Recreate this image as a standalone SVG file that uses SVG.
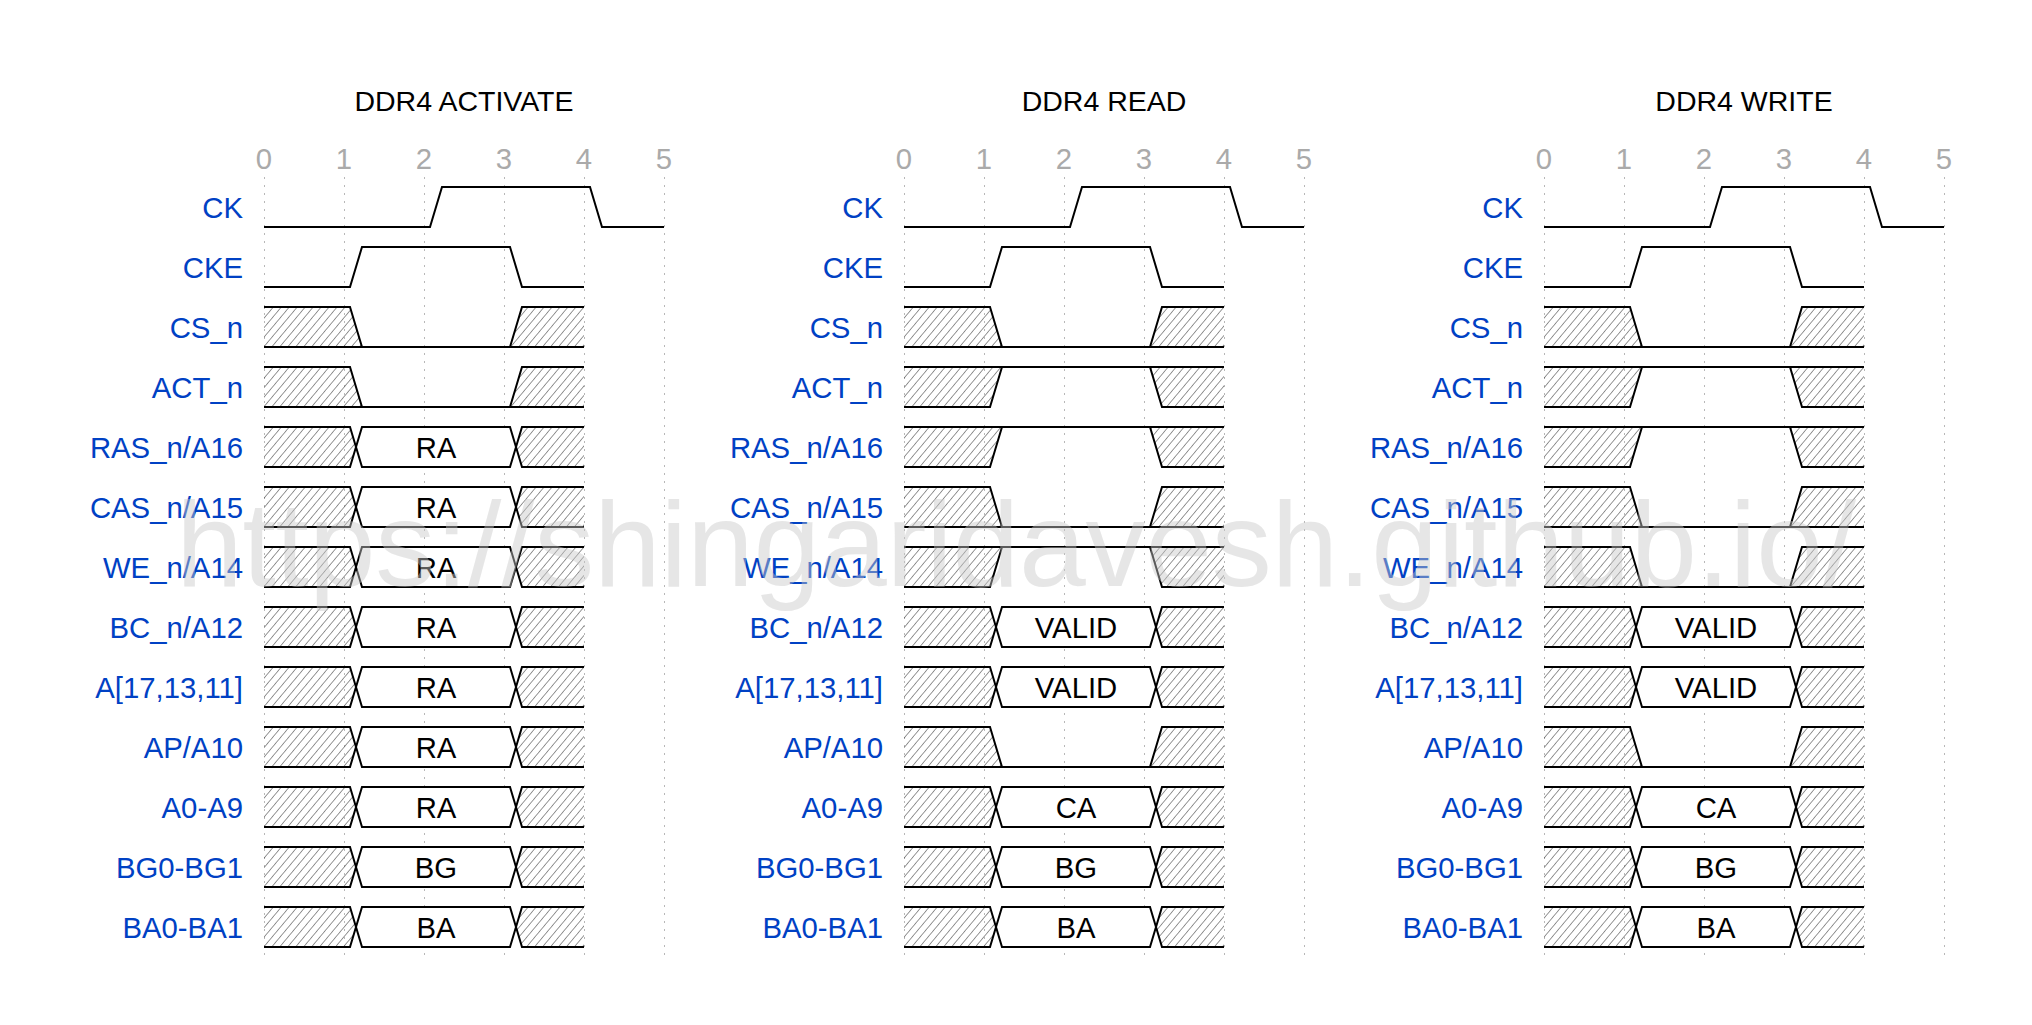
<svg xmlns="http://www.w3.org/2000/svg" xmlns:xlink="http://www.w3.org/1999/xlink" width="2032" height="1025" viewBox="0 0 2032 1025">
<style>
.title{font-family:"Liberation Sans",Arial,sans-serif;font-size:28.5px;fill:#000;text-anchor:middle}
.tick{font-family:"Liberation Sans",Arial,sans-serif;font-size:29.3px;fill:#aaa;text-anchor:middle}
.name{font-family:"Liberation Sans",Arial,sans-serif;font-size:29.3px;fill:#0041c4;text-anchor:end}
.data{font-family:"Liberation Sans",Arial,sans-serif;font-size:29.3px;fill:#000;text-anchor:middle}
.wave{fill:none;stroke:#000;stroke-width:2;stroke-linejoin:miter}
.hatch{fill:url(#hatch);stroke:none}
.box{fill:#fff;stroke:none}
.grid{stroke:#b8b8b8;stroke-width:1;stroke-dasharray:2,6;fill:none}
.wm{font-family:"Liberation Sans",Arial,sans-serif;font-size:120px;fill:#c8c8c8;fill-opacity:0.45}
</style>
<defs>
<pattern id="hatch" patternUnits="userSpaceOnUse" width="6.1" height="10" patternTransform="rotate(40)">
<line x1="0" y1="-1" x2="0" y2="11" stroke="#444" stroke-width="1.1"/>
</pattern>
<g id="ck"><path class="wave" d="M0,20H166L178,-20H326L338,20H400"/></g>
<g id="cke"><path class="wave" d="M0,20H86L98,-20H246L258,20H320"/></g>
<g id="x0x">
<path class="hatch" d="M0,-20H86L98,20H0Z M246,20L258,-20H320V20Z"/>
<path class="wave" d="M0,-20H86L98,20 M0,20H320 M246,20L258,-20H320"/>
</g>
<g id="x1x">
<path class="hatch" d="M0,-20H98L86,20H0Z M246,-20H320V20H258Z"/>
<path class="wave" d="M0,-20H320 M0,20H86L98,-20 M246,-20L258,20H320"/>
</g>
<g id="xdx">
<path class="hatch" d="M0,-20H86L92,0L86,20H0Z M252,0L258,-20H320V20H258Z"/>
<path class="box" d="M92,0L98,-20H246L252,0L246,20H98Z"/>
<path class="wave" d="M0,-20H86L98,20H246L258,-20H320 M0,20H86L98,-20H246L258,20H320"/>
</g>
<g id="grid">
<path class="grid" d="M0.5,177V957 M80.5,177V957 M160.5,177V957 M240.5,177V957 M320.5,177V957 M400.5,177V957"/>
</g>
</defs>

<g id="panel-activate">
<text class="title" x="464" y="111">DDR4 ACTIVATE</text>
<g id="ticks-activate">
<text class="tick" x="264" y="169">0</text><text class="tick" x="344" y="169">1</text><text class="tick" x="424" y="169">2</text><text class="tick" x="504" y="169">3</text><text class="tick" x="584" y="169">4</text><text class="tick" x="664" y="169">5</text>
</g>
<use xlink:href="#grid" x="264" y="0"/>
<g id="act-labels">
<text class="name" x="243" y="217.5">CK</text>
<text class="name" x="243" y="277.5">CKE</text>
<text class="name" x="243" y="337.5">CS_n</text>
<text class="name" x="243" y="397.5">ACT_n</text>
<text class="name" x="243" y="457.5">RAS_n/A16</text>
<text class="name" x="243" y="517.5">CAS_n/A15</text>
<text class="name" x="243" y="577.5">WE_n/A14</text>
<text class="name" x="243" y="637.5">BC_n/A12</text>
<text class="name" x="243" y="697.5">A[17,13,11]</text>
<text class="name" x="243" y="757.5">AP/A10</text>
<text class="name" x="243" y="817.5">A0-A9</text>
<text class="name" x="243" y="877.5">BG0-BG1</text>
<text class="name" x="243" y="937.5">BA0-BA1</text>
</g>
<g id="act-waves">
<use xlink:href="#ck" x="264" y="207"/>
<use xlink:href="#cke" x="264" y="267"/>
<use xlink:href="#x0x" x="264" y="327"/>
<use xlink:href="#x0x" x="264" y="387"/>
<use xlink:href="#xdx" x="264" y="447"/>
<use xlink:href="#xdx" x="264" y="507"/>
<use xlink:href="#xdx" x="264" y="567"/>
<use xlink:href="#xdx" x="264" y="627"/>
<use xlink:href="#xdx" x="264" y="687"/>
<use xlink:href="#xdx" x="264" y="747"/>
<use xlink:href="#xdx" x="264" y="807"/>
<use xlink:href="#xdx" x="264" y="867"/>
<use xlink:href="#xdx" x="264" y="927"/>
<text class="data" x="436" y="457.5">RA</text>
<text class="data" x="436" y="517.5">RA</text>
<text class="data" x="436" y="577.5">RA</text>
<text class="data" x="436" y="637.5">RA</text>
<text class="data" x="436" y="697.5">RA</text>
<text class="data" x="436" y="757.5">RA</text>
<text class="data" x="436" y="817.5">RA</text>
<text class="data" x="436" y="877.5">BG</text>
<text class="data" x="436" y="937.5">BA</text>
</g>
</g>

<g id="panel-read">
<text class="title" x="1104" y="111">DDR4 READ</text>
<g id="ticks-read">
<text class="tick" x="904" y="169">0</text><text class="tick" x="984" y="169">1</text><text class="tick" x="1064" y="169">2</text><text class="tick" x="1144" y="169">3</text><text class="tick" x="1224" y="169">4</text><text class="tick" x="1304" y="169">5</text>
</g>
<use xlink:href="#grid" x="904" y="0"/>
<g id="read-labels">
<text class="name" x="883" y="217.5">CK</text>
<text class="name" x="883" y="277.5">CKE</text>
<text class="name" x="883" y="337.5">CS_n</text>
<text class="name" x="883" y="397.5">ACT_n</text>
<text class="name" x="883" y="457.5">RAS_n/A16</text>
<text class="name" x="883" y="517.5">CAS_n/A15</text>
<text class="name" x="883" y="577.5">WE_n/A14</text>
<text class="name" x="883" y="637.5">BC_n/A12</text>
<text class="name" x="883" y="697.5">A[17,13,11]</text>
<text class="name" x="883" y="757.5">AP/A10</text>
<text class="name" x="883" y="817.5">A0-A9</text>
<text class="name" x="883" y="877.5">BG0-BG1</text>
<text class="name" x="883" y="937.5">BA0-BA1</text>
</g>
<g id="read-waves">
<use xlink:href="#ck" x="904" y="207"/>
<use xlink:href="#cke" x="904" y="267"/>
<use xlink:href="#x0x" x="904" y="327"/>
<use xlink:href="#x1x" x="904" y="387"/>
<use xlink:href="#x1x" x="904" y="447"/>
<use xlink:href="#x0x" x="904" y="507"/>
<use xlink:href="#x1x" x="904" y="567"/>
<use xlink:href="#xdx" x="904" y="627"/>
<use xlink:href="#xdx" x="904" y="687"/>
<use xlink:href="#x0x" x="904" y="747"/>
<use xlink:href="#xdx" x="904" y="807"/>
<use xlink:href="#xdx" x="904" y="867"/>
<use xlink:href="#xdx" x="904" y="927"/>
<text class="data" x="1076" y="637.5">VALID</text>
<text class="data" x="1076" y="697.5">VALID</text>
<text class="data" x="1076" y="817.5">CA</text>
<text class="data" x="1076" y="877.5">BG</text>
<text class="data" x="1076" y="937.5">BA</text>
</g>
</g>

<g id="panel-write">
<text class="title" x="1744" y="111">DDR4 WRITE</text>
<g id="ticks-write">
<text class="tick" x="1544" y="169">0</text><text class="tick" x="1624" y="169">1</text><text class="tick" x="1704" y="169">2</text><text class="tick" x="1784" y="169">3</text><text class="tick" x="1864" y="169">4</text><text class="tick" x="1944" y="169">5</text>
</g>
<use xlink:href="#grid" x="1544" y="0"/>
<g id="write-labels">
<text class="name" x="1523" y="217.5">CK</text>
<text class="name" x="1523" y="277.5">CKE</text>
<text class="name" x="1523" y="337.5">CS_n</text>
<text class="name" x="1523" y="397.5">ACT_n</text>
<text class="name" x="1523" y="457.5">RAS_n/A16</text>
<text class="name" x="1523" y="517.5">CAS_n/A15</text>
<text class="name" x="1523" y="577.5">WE_n/A14</text>
<text class="name" x="1523" y="637.5">BC_n/A12</text>
<text class="name" x="1523" y="697.5">A[17,13,11]</text>
<text class="name" x="1523" y="757.5">AP/A10</text>
<text class="name" x="1523" y="817.5">A0-A9</text>
<text class="name" x="1523" y="877.5">BG0-BG1</text>
<text class="name" x="1523" y="937.5">BA0-BA1</text>
</g>
<g id="write-waves">
<use xlink:href="#ck" x="1544" y="207"/>
<use xlink:href="#cke" x="1544" y="267"/>
<use xlink:href="#x0x" x="1544" y="327"/>
<use xlink:href="#x1x" x="1544" y="387"/>
<use xlink:href="#x1x" x="1544" y="447"/>
<use xlink:href="#x0x" x="1544" y="507"/>
<use xlink:href="#x0x" x="1544" y="567"/>
<use xlink:href="#xdx" x="1544" y="627"/>
<use xlink:href="#xdx" x="1544" y="687"/>
<use xlink:href="#x0x" x="1544" y="747"/>
<use xlink:href="#xdx" x="1544" y="807"/>
<use xlink:href="#xdx" x="1544" y="867"/>
<use xlink:href="#xdx" x="1544" y="927"/>
<text class="data" x="1716" y="637.5">VALID</text>
<text class="data" x="1716" y="697.5">VALID</text>
<text class="data" x="1716" y="817.5">CA</text>
<text class="data" x="1716" y="877.5">BG</text>
<text class="data" x="1716" y="937.5">BA</text>
</g>
</g>

<g id="watermark">
<text class="wm" x="176" y="586" textLength="1680" lengthAdjust="spacing">https://shingaridavesh.github.io/</text>
</g>
</svg>
